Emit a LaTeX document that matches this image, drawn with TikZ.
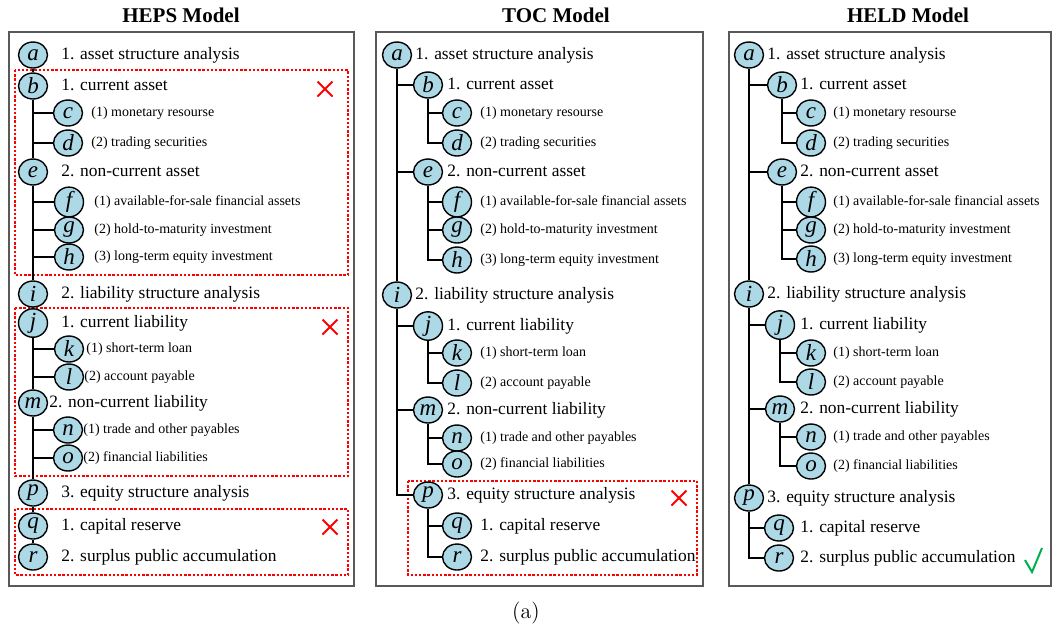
\documentclass[tikz,border=0pt]{standalone}
\usepackage{fontspec}
\usepackage{tikz}
\usetikzlibrary{shapes,positioning}
\newfontfamily\timesfont{Liberation Serif}
\definecolor{nodeblue}{RGB}{173,216,230}
\definecolor{okgreen}{RGB}{0,176,80}

\begin{document}
\begin{tikzpicture}[x=0.5pt,y=0.5pt]
            \tikzstyle{every node}+=[inner sep=0pt]
            \tikzstyle{leaf}=[ellipse,draw=black,line width=0.7pt,fill=nodeblue,minimum width=14.5pt,minimum height=13pt,font=\timesfont\itshape\fontsize{11.5}{12}\selectfont]
            \tikzstyle{big}=[anchor=west,font=\timesfont\fontsize{8.7}{10}\selectfont,text height=6pt,text depth=2pt]
            \tikzstyle{small}=[anchor=west,font=\timesfont\fontsize{7}{8}\selectfont,text height=5pt,text depth=1.6pt]
            \tikzstyle{title}=[font=\timesfont\bfseries\fontsize{10.5}{12}\selectfont]
            \tikzstyle{panel}=[draw=black!65,line width=0.7pt]
            \tikzstyle{redbox}=[draw=red,line width=0.6pt,dash pattern=on 1.2pt off 0.9pt]
            \tikzstyle{wrong}=[red,line width=1pt]
            \tikzstyle{branch}=[black,line width=0.7pt]
            \useasboundingbox (0,0) rectangle (1052,-629);
            % HEPS model
            \draw [panel] (9,-32) rectangle (354,-586);
            \node [title] (hepst) at (181,-15) {HEPS Model};
            \draw [redbox] (15,-70) rectangle (348,-275);
            \draw [redbox] (15,-308) rectangle (348,-476);
            \draw [redbox] (15,-509) rectangle (348,-575);
            \node [leaf] (ha) at (33,-55) {a};
            \node [leaf] (hb) at (33,-86) {b};
            \node [leaf] (hc) at (68,-113) {c};
            \node [leaf] (hd) at (68,-143) {d};
            \node [leaf] (he) at (33,-172) {e};
            \node [leaf] (hf) at (69,-202) {f};
            \node [leaf] (hg) at (69,-230) {g};
            \node [leaf] (hh) at (69,-257) {h};
            \node [leaf] (hi) at (33,-294) {i};
            \node [leaf] (hj) at (33,-323) {j};
            \node [leaf] (hk) at (69,-349) {k};
            \node [leaf] (hl) at (69,-377) {l};
            \node [leaf] (hm) at (33,-403) {m};
            \node [leaf] (hn) at (68,-430) {n};
            \node [leaf] (ho) at (68,-458) {o};
            \node [leaf] (hp) at (33,-493) {p};
            \node [leaf] (hq) at (33,-526) {q};
            \node [leaf] (hr) at (33,-557) {r};
            \node [big] (hta) at (61,-55) {1. asset structure analysis};
            \node [big] (htb) at (61,-86) {1. current asset};
            \node [small] (htc) at (91,-113) {(1) monetary resourse};
            \node [small] (htd) at (91,-143) {(2) trading securities};
            \node [big] (hte) at (61,-172) {2. non-current asset};
            \node [small] (htf) at (94,-202) {(1) available-for-sale financial assets};
            \node [small] (htg) at (94,-230) {(2) hold-to-maturity investment};
            \node [small] (hth) at (94,-257) {(3) long-term equity investment};
            \node [big] (hti) at (61,-294) {2. liability structure analysis};
            \node [big] (htj) at (61,-323) {1. current liability};
            \node [small] (htk) at (86,-349) {(1) short-term loan};
            \node [small] (htl) at (84,-377) {(2) account payable};
            \node [big] (htm) at (49,-403) {2. non-current liability};
            \node [small] (htn) at (83,-430) {(1) trade and other payables};
            \node [small] (hto) at (83,-458) {(2) financial liabilities};
            \node [big] (htp) at (61,-493) {3. equity structure analysis};
            \node [big] (htq) at (61,-526) {1. capital reserve};
            \node [big] (htr) at (61,-557) {2. surplus public accumulation};
            \draw [branch] (ha) -- (hb);
            \draw [branch] (hb) -- (he);
            \draw [branch] (he) -- (hi);
            \draw [branch] (hi) -- (hj);
            \draw [branch] (hj) -- (hm);
            \draw [branch] (hm) -- (hp);
            \draw [branch] (hp) -- (hq);
            \draw [branch] (hq) -- (hr);
            \draw [branch] (hb) |- (hc);
            \draw [branch] (hb) |- (hd);
            \draw [branch] (he) |- (hf);
            \draw [branch] (he) |- (hg);
            \draw [branch] (he) |- (hh);
            \draw [branch] (hj) |- (hk);
            \draw [branch] (hj) |- (hl);
            \draw [branch] (hm) |- (hn);
            \draw [branch] (hm) |- (ho);
            \draw [wrong] (317.5,-81.5) -- (332.5,-96.5) (317.5,-96.5) -- (332.5,-81.5);
            \draw [wrong] (322.5,-319.5) -- (337.5,-334.5) (322.5,-334.5) -- (337.5,-319.5);
            \draw [wrong] (322.5,-519.5) -- (337.5,-534.5) (322.5,-534.5) -- (337.5,-519.5);
            % TOC model
            \draw [panel] (376,-32) rectangle (703,-586);
            \node [title] (toct) at (556,-15) {TOC Model};
            \draw [redbox] (408,-481) rectangle (697,-575);
            \node [leaf] (ta) at (397,-55) {a};
            \node [leaf] (tb) at (428,-85) {b};
            \node [leaf] (tc) at (457,-113) {c};
            \node [leaf] (td) at (457,-143) {d};
            \node [leaf] (te) at (428,-172) {e};
            \node [leaf] (tf) at (457,-202) {f};
            \node [leaf] (tg) at (457,-230) {g};
            \node [leaf] (th) at (457,-260) {h};
            \node [leaf] (ti) at (397,-295) {i};
            \node [leaf] (tj) at (428,-326) {j};
            \node [leaf] (tk) at (457,-353) {k};
            \node [leaf] (tl) at (457,-383) {l};
            \node [leaf] (tm) at (428,-410) {m};
            \node [leaf] (tn) at (457,-438) {n};
            \node [leaf] (to) at (457,-464) {o};
            \node [leaf] (tp) at (428,-495) {p};
            \node [leaf] (tq) at (457,-526) {q};
            \node [leaf] (tr) at (457,-557) {r};
            \node [big] (tta) at (415,-55) {1. asset structure analysis};
            \node [big] (ttb) at (447,-85) {1. current asset};
            \node [small] (ttc) at (480,-113) {(1) monetary resourse};
            \node [small] (ttd) at (480,-143) {(2) trading securities};
            \node [big] (tte) at (447,-172) {2. non-current asset};
            \node [small] (ttf) at (480,-202) {(1) available-for-sale financial assets};
            \node [small] (ttg) at (480,-230) {(2) hold-to-maturity investment};
            \node [small] (tth) at (480,-260) {(3) long-term equity investment};
            \node [big] (tti) at (415,-295) {2. liability structure analysis};
            \node [big] (ttj) at (447,-326) {1. current liability};
            \node [small] (ttk) at (480,-353) {(1) short-term loan};
            \node [small] (ttl) at (480,-383) {(2) account payable};
            \node [big] (ttm) at (447,-410) {2. non-current liability};
            \node [small] (ttn) at (480,-438) {(1) trade and other payables};
            \node [small] (tto) at (480,-464) {(2) financial liabilities};
            \node [big] (ttp) at (447,-495) {3. equity structure analysis};
            \node [big] (ttq) at (480,-526) {1. capital reserve};
            \node [big] (ttr) at (480,-557) {2. surplus public accumulation};
            \draw [branch] (ta) -- (ti);
            \draw [branch] (ta) |- (tb);
            \draw [branch] (ta) |- (te);
            \draw [branch] (tb) |- (tc);
            \draw [branch] (tb) |- (td);
            \draw [branch] (te) |- (tf);
            \draw [branch] (te) |- (tg);
            \draw [branch] (te) |- (th);
            \draw [branch] (ti) |- (tj);
            \draw [branch] (ti) |- (tm);
            \draw [branch] (ti) |- (tp);
            \draw [branch] (tj) |- (tk);
            \draw [branch] (tj) |- (tl);
            \draw [branch] (tm) |- (tn);
            \draw [branch] (tm) |- (to);
            \draw [branch] (tp) |- (tq);
            \draw [branch] (tp) |- (tr);
            \draw [wrong] (671.5,-490.5) -- (686.5,-505.5) (671.5,-505.5) -- (686.5,-490.5);
            % HELD model
            \draw [panel] (729,-32) rectangle (1051,-586);
            \node [title] (heldt) at (908,-15) {HELD Model};
            \node [leaf] (la) at (749,-55) {a};
            \node [leaf] (lb) at (782,-85) {b};
            \node [leaf] (lc) at (811,-113) {c};
            \node [leaf] (ld) at (811,-143) {d};
            \node [leaf] (le) at (782,-172) {e};
            \node [leaf] (lf) at (811,-202) {f};
            \node [leaf] (lg) at (811,-230) {g};
            \node [leaf] (lh) at (811,-259) {h};
            \node [leaf] (li) at (749,-294) {i};
            \node [leaf] (lj) at (780,-325) {j};
            \node [leaf] (lk) at (811,-353) {k};
            \node [leaf] (ll) at (811,-382) {l};
            \node [leaf] (lm) at (780,-409) {m};
            \node [leaf] (ln) at (811,-437) {n};
            \node [leaf] (lo) at (811,-466) {o};
            \node [leaf] (lp) at (749,-498) {p};
            \node [leaf] (lq) at (779,-528) {q};
            \node [leaf] (lr) at (779,-558) {r};
            \node [big] (lta) at (767,-55) {1. asset structure analysis};
            \node [big] (ltb) at (800,-85) {1. current asset};
            \node [small] (ltc) at (833,-113) {(1) monetary resourse};
            \node [small] (ltd) at (833,-143) {(2) trading securities};
            \node [big] (lte) at (800,-172) {2. non-current asset};
            \node [small] (ltf) at (833,-202) {(1) available-for-sale financial assets};
            \node [small] (ltg) at (833,-230) {(2) hold-to-maturity investment};
            \node [small] (lth) at (833,-259) {(3) long-term equity investment};
            \node [big] (lti) at (767,-294) {2. liability structure analysis};
            \node [big] (ltj) at (800,-325) {1. current liability};
            \node [small] (ltk) at (833,-353) {(1) short-term loan};
            \node [small] (ltl) at (833,-382) {(2) account payable};
            \node [big] (ltm) at (800,-409) {2. non-current liability};
            \node [small] (ltn) at (833,-437) {(1) trade and other payables};
            \node [small] (lto) at (833,-466) {(2) financial liabilities};
            \node [big] (ltp) at (767,-498) {3. equity structure analysis};
            \node [big] (ltq) at (800,-528) {1. capital reserve};
            \node [big] (ltr) at (800,-558) {2. surplus public accumulation};
            \draw [branch] (la) -- (li);
            \draw [branch] (li) -- (lp);
            \draw [branch] (la) |- (lb);
            \draw [branch] (la) |- (le);
            \draw [branch] (lb) |- (lc);
            \draw [branch] (lb) |- (ld);
            \draw [branch] (le) |- (lf);
            \draw [branch] (le) |- (lg);
            \draw [branch] (le) |- (lh);
            \draw [branch] (li) |- (lj);
            \draw [branch] (li) |- (lm);
            \draw [branch] (lj) |- (lk);
            \draw [branch] (lj) |- (ll);
            \draw [branch] (lm) |- (ln);
            \draw [branch] (lm) |- (lo);
            \draw [branch] (lp) |- (lq);
            \draw [branch] (lp) |- (lr);
            \draw [okgreen,line width=1pt] (1025,-560) -- (1032,-572) -- (1042,-548);
            % caption
            \node (cap) at (526,-613) {\fontsize{11}{12}\selectfont (a)};
\end{tikzpicture}
\end{document}
